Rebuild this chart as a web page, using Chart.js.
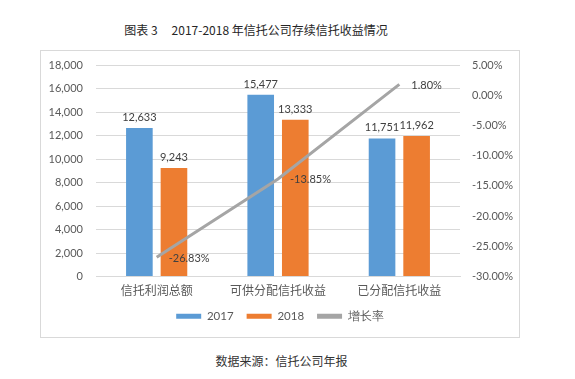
<!DOCTYPE html>
<html>
<head>
<meta charset="utf-8">
<script src="https://cdn.jsdelivr.net/npm/chart.js@4"></script>
<style>
  html,body{margin:0;padding:0;background:#fff;width:575px;height:379px;overflow:hidden;}
  #title{position:absolute;left:0;top:20px;width:512px;text-align:center;font-family:"Noto Sans CJK SC",sans-serif;font-size:12px;color:#262626;white-space:pre;line-height:20px;}
  #title .gap{display:inline-block;width:14px;}
  #frame{position:absolute;left:40px;top:50px;width:480px;height:288px;box-sizing:border-box;border:1px solid #d9d9d9;}
  #wrap{position:absolute;left:41px;top:51px;width:478px;height:286px;}
  #source{position:absolute;left:0;top:351px;width:563px;text-align:center;font-family:"Noto Sans CJK SC",serif;font-size:12px;color:#333;line-height:20px;}
</style>
</head>
<body>
<div id="title">图表 3<span class="gap"></span>2017-2018 年信托公司存续信托收益情况</div>
<div id="frame"></div>
<div id="wrap"><canvas id="c" width="478" height="286"></canvas></div>
<div id="source">数据来源：信托公司年报</div>
<script>
const categories = ['信托利润总额', '可供分配信托收益', '已分配信托收益'];
const values2017 = [12633, 15477, 11751];
const values2018 = [9243, 13333, 11962];
const growthRate = [-26.83, -13.85, 1.80];
const leftTicks = [0, 2000, 4000, 6000, 8000, 10000, 12000, 14000, 16000, 18000];
const rightTicks = [-30, -25, -20, -15, -10, -5, 0, 5];

const numFont = 'Lato, "Open Sans", sans-serif';
const cjkFont = '"Noto Sans CJK SC", sans-serif';
const txt = '#595959';

const labelPlugin = {
  id: 'valueLabels',
  afterDatasetsDraw(chart) {
    const ctx = chart.ctx;
    ctx.save();
    ctx.font = '11px ' + numFont;
    ctx.fillStyle = '#404040';
    chart.data.datasets.forEach((ds, i) => {
      const meta = chart.getDatasetMeta(i);
      meta.data.forEach((el, j) => {
        const v = ds.data[j];
        if (ds.type === 'line') {
          ctx.textAlign = 'left';
          ctx.textBaseline = 'middle';
          ctx.fillText(v.toFixed(2) + '%', el.x + 12, el.y + 1);
        } else {
          ctx.textAlign = 'center';
          ctx.textBaseline = 'bottom';
          ctx.fillText(v.toLocaleString('en-US'), el.x, el.y - 5);
        }
      });
    });
    ctx.restore();
  }
};

function noVertPad(scale, w) {
  scale.width = w;
  scale.paddingTop = 0;
  scale.paddingBottom = 0;
}

new Chart(document.getElementById('c'), {
  type: 'bar',
  data: {
    labels: categories,
    datasets: [
      { type: 'bar', label: '2017', data: values2017, backgroundColor: '#5B9BD5', yAxisID: 'y', order: 1,
        categoryPercentage: 0.57, barPercentage: 0.77 },
      { type: 'bar', label: '2018', data: values2018, backgroundColor: '#ED7D31', yAxisID: 'y', order: 1,
        categoryPercentage: 0.57, barPercentage: 0.77 },
      { type: 'line', label: '增长率', data: growthRate, borderColor: '#A5A5A5', backgroundColor: '#A5A5A5',
        borderWidth: 3, pointRadius: 0, tension: 0, yAxisID: 'y1', order: 0 }
    ]
  },
  options: {
    responsive: false,
    animation: false,
    layout: { padding: { top: 14, left: 0, right: 0, bottom: 5 } },
    plugins: {
      title: { display: false },
      tooltip: { enabled: false },
      legend: {
        position: 'bottom',
        labels: {
          boxWidth: 25, boxHeight: 5, padding: 13,
          color: txt,
          font: { family: numFont, size: 11.5 },
          generateLabels(chart) {
            return chart.data.datasets.map((ds, i) => ({
              text: ds.label,
              fillStyle: ds.backgroundColor,
              strokeStyle: ds.backgroundColor,
              lineWidth: 0,
              hidden: false,
              datasetIndex: i,
              fontColor: txt
            }));
          }
        }
      }
    },
    scales: {
      x: {
        afterFit(scale) { scale.height = 21; },
        grid: { display: false },
        border: { display: true, color: '#d9d9d9' },
        ticks: { color: txt, font: { family: cjkFont, size: 12 }, padding: -1 }
      },
      y: {
        position: 'left',
        min: 0, max: 18000,
        afterBuildTicks(scale) { scale.ticks = leftTicks.map(v => ({ value: v })); },
        afterFit(scale) { noVertPad(scale, 55); },
        grid: { color: '#d9d9d9', drawTicks: false },
        border: { display: false },
        ticks: { color: txt, font: { family: numFont, size: 11 }, padding: 13,
          callback: v => v.toLocaleString('en-US') }
      },
      y1: {
        position: 'right',
        min: -30, max: 5,
        afterBuildTicks(scale) { scale.ticks = rightTicks.map(v => ({ value: v })); },
        afterFit(scale) { noVertPad(scale, 59); },
        grid: { display: false, drawTicks: false },
        border: { display: false },
        ticks: { color: txt, font: { family: numFont, size: 11 }, padding: 12,
          callback: v => Number(v).toFixed(2) + '%' }
      }
    }
  },
  plugins: [labelPlugin]
});
</script>
</body>
</html>
